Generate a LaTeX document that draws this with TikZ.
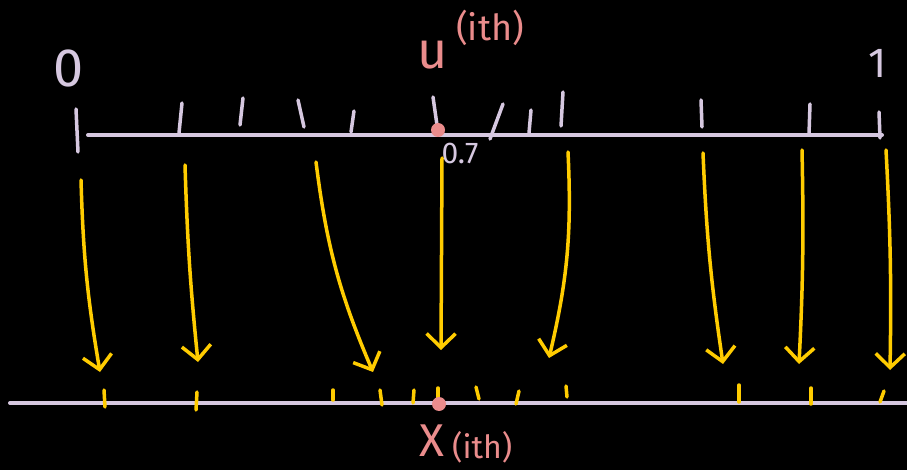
\documentclass[tikz,border=0pt]{standalone}
\usepackage{fontspec}
\setmainfont{Fira Sans}
\usetikzlibrary{arrows.meta}
\definecolor{lilac}{RGB}{214,200,224}
\definecolor{gold}{RGB}{255,204,0}
\definecolor{rose}{RGB}{234,140,140}

\begin{document}
\begin{tikzpicture}[x=1pt, y=-1pt, line cap=round,
  axisline/.style={lilac, line width=4pt},
  utick/.style={lilac, line width=3.5pt},
  xtick/.style={gold, line width=3.5pt},
  flow/.style={gold, line width=3.5pt, -{Straight Barb[length=14pt, width=29pt]}},
  mark dot/.style={circle, fill=rose, inner sep=0pt, minimum size=14pt},
  lbl/.style={inner sep=0pt, font=\fontsize{#1}{#1}\selectfont}]
  \fill[black] (0,0) rectangle (907,470);
  \useasboundingbox (0,0) rectangle (907,470);

  % the two number lines
  \coordinate (ua) at (88,135);
  \coordinate (ub) at (882,135);
  \coordinate (xa) at (10,403);
  \coordinate (xb) at (907,403);
  \draw[axisline] (ua) -- (ub);
  \draw[axisline] (xa) -- (xb);

  % labels
  \node[lbl=54, lilac] (zero) at (69,68) {0};
  \node[lbl=42, lilac] (one) at (878,63) {1};
  \draw[utick] (76,109) -- (78,152);
  \node[lbl=52, rose] (u) at (433,55) {u};
  \node[lbl=36, rose, anchor=west] (uith) at (456,28) {(ith)};
  \node[lbl=30, lilac] (val) at (460,153) {0.7};
  \node[lbl=46, rose] (xlab) at (432,441) {X};
  \node[lbl=32, rose, anchor=west] (xith) at (452,447) {(ith)};

  % samples on the unit line
  \foreach \xa/\ya/\xb/\yb in {182/103/179/133, 243/98/240/125, 298/100/304/127,
      354/111/351/132, 433/97/437/125, 503/104/490/139, 531/110/529/133,
      563/92/561/126, 701/100/702/127, 810/104/809/134, 879/112/880/138}
    \draw[utick] (\xa,\ya) -- (\xb,\yb);

  % their images on the lower line
  \foreach \xa/\ya/\xb/\yb in {104/390/105/407, 197/392/196/410, 333/390/333/400,
      380/390/382/405, 414/390/413/403, 438/388/438/398, 476/387/479/399,
      519/391/516/404, 566/386/567/397, 739/385/739/402, 811/388/811/404,
      884/391/880/402}
    \draw[xtick] (\xa,\ya) -- (\xb,\yb);

  \node[mark dot] (udot) at (438,130) {};
  \node[mark dot] (xdot) at (439,404) {};

  % mapping arrows
  \foreach \i/\xs/\ys/\xe/\ye/\b in {1/81/180/100/372/4, 2/185/165/198/362/2,
      3/316/162/373/372/8, 4/442/158/441/350/0, 5/568/152/549/358/-8,
      6/703/153/723/364/3, 7/802/150/799/364/-2, 8/886/150/890/370/-2}
  {
    \coordinate (s\i) at (\xs,\ys);
    \coordinate (e\i) at (\xe,\ye);
    \draw[flow] (s\i) to[bend right=\b] (e\i);
  }
\end{tikzpicture}
\end{document}
